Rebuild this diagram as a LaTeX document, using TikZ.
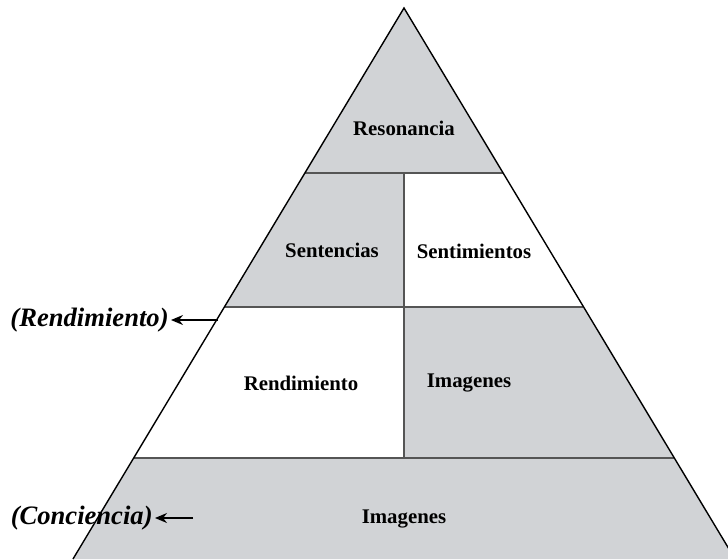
\documentclass[tikz,border=0pt]{standalone}
\usepackage{fontspec}
\setmainfont{Liberation Serif}
\usetikzlibrary{arrows.meta}
\definecolor{pyrgray}{RGB}{209,211,214}
\definecolor{pyrline}{RGB}{85,85,85}
\tikzset{
    level/.style={font=\fontsize{10.4}{12}\selectfont\bfseries},
    side/.style={font=\fontsize{13.3}{15}\selectfont\bfseries\itshape, inner sep=1pt},
    band/.style={pyrline, line width=0.8pt},
}
\begin{document}
\begin{tikzpicture}[x=0.5pt,y=-0.5pt]
    \useasboundingbox (0,0) rectangle (728,559);
    \clip (0,0) rectangle (728,559);
    % Gray parts %
    \fill[pyrgray] (404,8) -- (305,173) -- (503,173) -- cycle;
    \fill[pyrgray] (305,173) -- (404,173) -- (404,307) -- (224.6,307) -- cycle;
    \fill[pyrgray] (404,307) -- (583.4,307) -- (674,458) -- (404,458) -- cycle;
    \fill[pyrgray] (134,458) -- (674,458) -- (735,559) -- (73,559) -- cycle;

    % Dividers %
    \draw[band] (305,173) -- (503,173);
    \draw[band] (224.6,307) -- (583.4,307);
    \draw[band] (134,458) -- (674,458);
    \draw[band] (404,173) -- (404,458);

    % Outline %
    \draw[line width=0.7pt] (73,559) -- (404,8) -- (735,559);

    % Levels %
    \node[level] (reson) at (404,128) {Resonancia};
    \node[level] (senten) at (332,250) {Sentencias};
    \node[level] (sentim) at (474,251) {Sentimientos};
    \node[level] (rendim) at (301,383) {Rendimiento};
    \node[level] (imag) at (469,383) {Imagenes};
    \node[level] (imagb) at (404,519) {Imagenes};

    % Side labels %
    \node[side, anchor=east] (rendlbl) at (171,320) {(Rendimiento)};
    \node[side, anchor=east] (conclbl) at (155,518) {(Conciencia)};
    \coordinate (rendstart) at (218,320);
    \coordinate (concstart) at (193,518);
    \draw[-{Stealth[length=6pt,width=5pt]}, line width=0.7pt] (rendstart) -- (rendlbl);
    \draw[-{Stealth[length=6pt,width=5pt]}, line width=0.7pt] (concstart) -- (conclbl);
\end{tikzpicture}
\end{document}
